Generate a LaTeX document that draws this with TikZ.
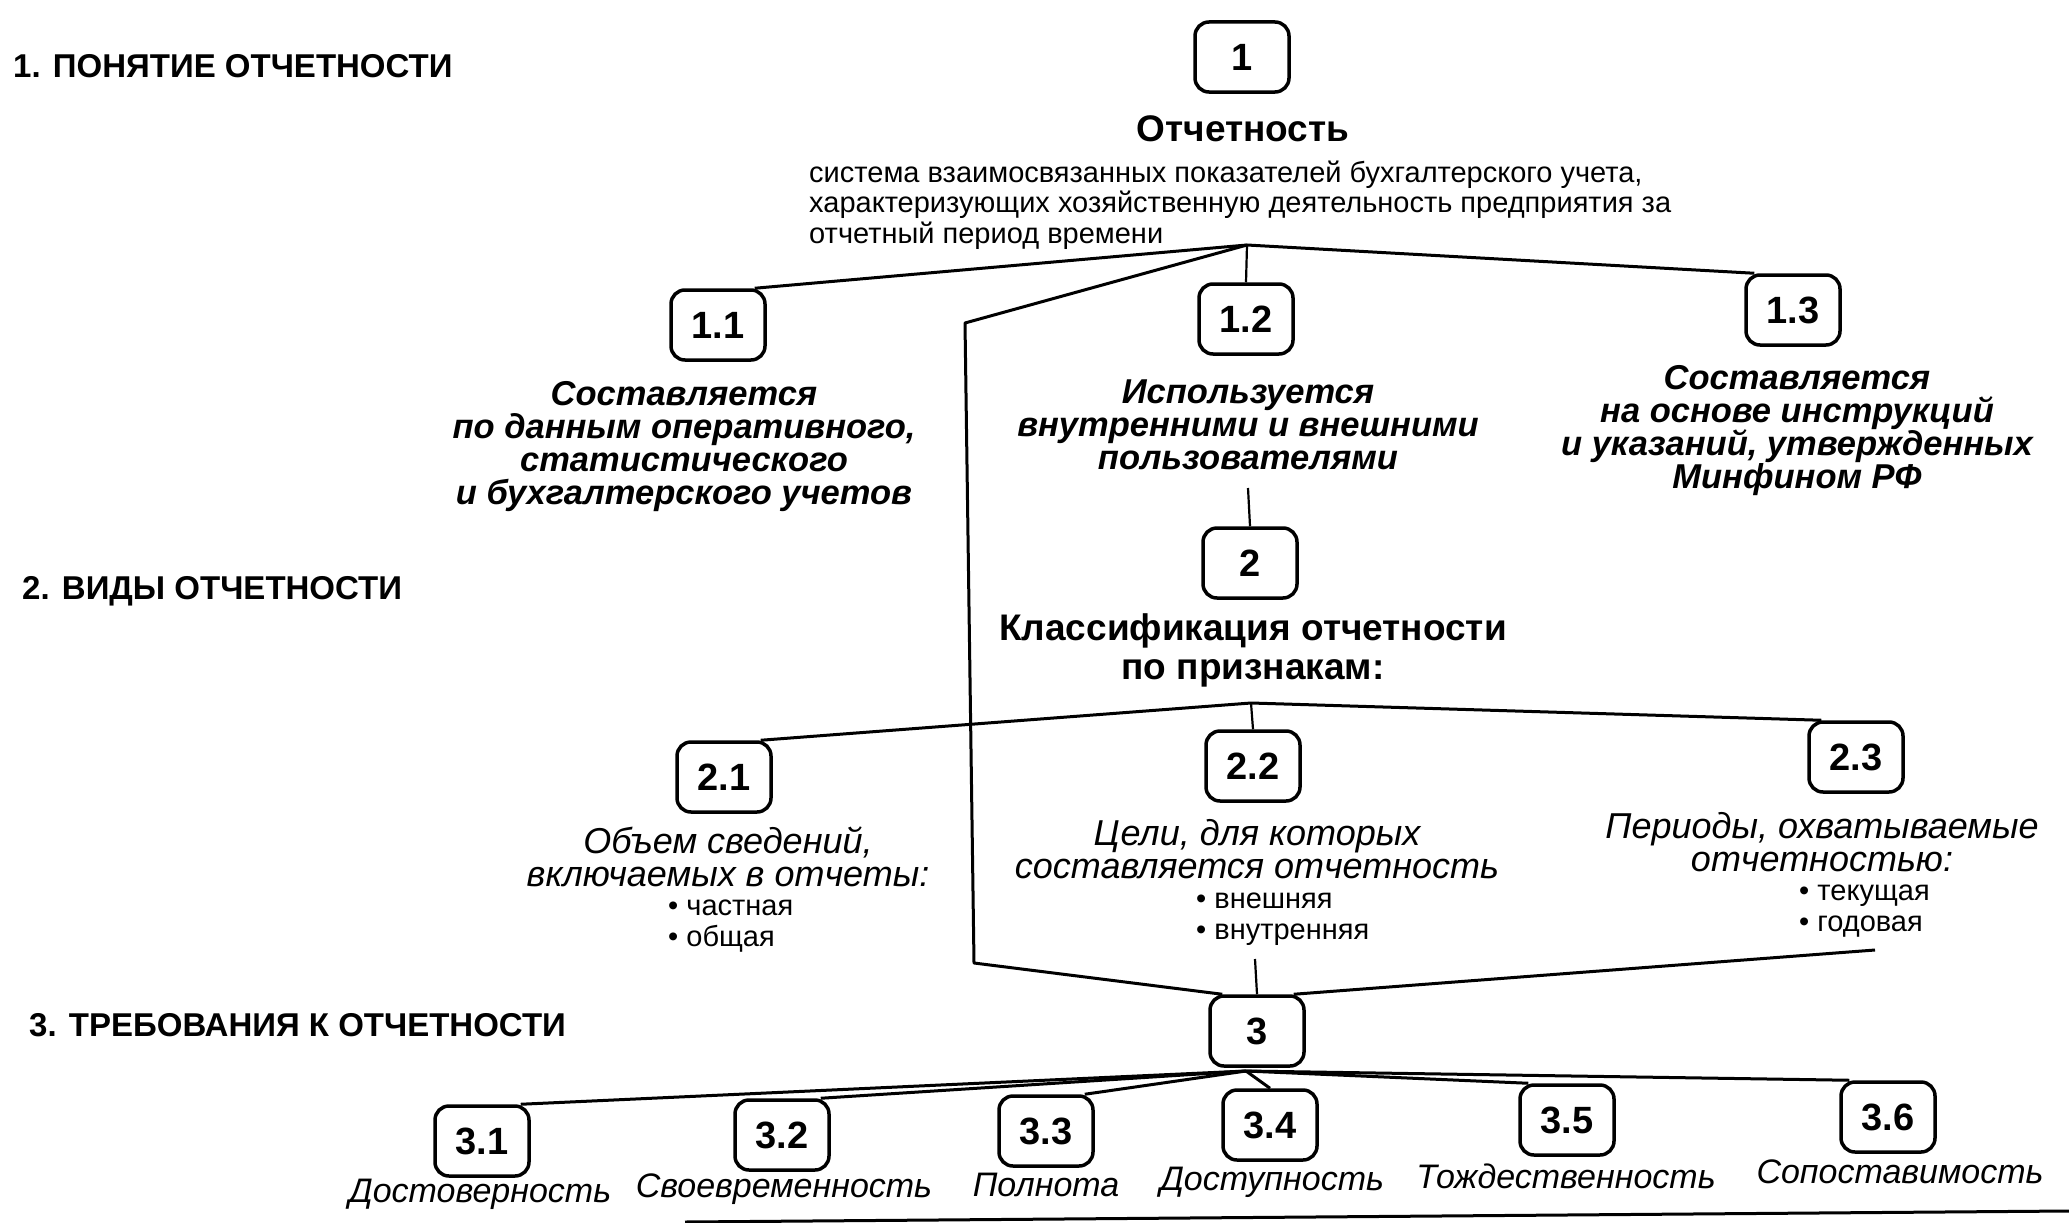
\documentclass[tikz,border=0pt]{standalone}
\usepackage{fontspec}
\setmainfont{Liberation Sans}
\begin{document}
\begin{tikzpicture}[x=1pt,y=-1pt,
  numbox/.style={draw, line width=3.5pt, rounded corners=14pt, minimum width=94pt, minimum height=70pt, inner sep=0pt, font=\fontsize{38}{40}\selectfont\bfseries},
  conn/.style={line width=3pt},
  thinconn/.style={line width=2.2pt},
  head/.style={anchor=west, inner sep=0pt, font=\fontsize{33}{38}\selectfont\bfseries},
  desc/.style={inner sep=0pt, align=left, font=\fontsize{29}{30.5}\selectfont},
  bigtitle/.style={inner sep=0pt, align=center, font=\fontsize{37}{39}\selectfont\bfseries},
  bitext/.style={inner sep=0pt, align=center, font=\fontsize{34.5}{33}\selectfont\bfseries\itshape},
  itext/.style={inner sep=0pt, align=center, font=\fontsize{36}{33}\selectfont\itshape},
  bullets/.style={inner sep=0pt, anchor=west, align=left, font=\fontsize{29}{30.5}\selectfont},
  lab/.style={inner sep=0pt, font=\fontsize{34}{38}\selectfont\itshape}
]
\useasboundingbox (0,0) rectangle (2069,1223);

% headings
\node[head] (h1) at (13,66) {1. ПОНЯТИЕ ОТЧЕТНОСТИ};
\node[head] (h2) at (22,591) {2. ВИДЫ ОТЧЕТНОСТИ};
\node[head] (h3) at (29,1025) {3. ТРЕБОВАНИЯ К ОТЧЕТНОСТИ};

% boxes
\node[numbox] (n1) at (1242,57) {1};
\node[numbox] (n11) at (718,325) {1.1};
\node[numbox] (n12) at (1246,319) {1.2};
\node[numbox] (n13) at (1793,310) {1.3};
\node[numbox] (n2) at (1250,563) {2};
\node[numbox] (n21) at (724,777) {2.1};
\node[numbox] (n22) at (1253,766) {2.2};
\node[numbox] (n23) at (1856,757) {2.3};
\node[numbox] (n3) at (1257,1031) {3};
\node[numbox] (n31) at (482,1141) {3.1};
\node[numbox] (n32) at (782,1135) {3.2};
\node[numbox] (n33) at (1046,1131) {3.3};
\node[numbox] (n34) at (1270,1125) {3.4};
\node[numbox] (n35) at (1567,1120) {3.5};
\node[numbox] (n36) at (1888,1117) {3.6};

% texts
\node[bigtitle] (tt1) at (1243,129) {Отчетность};
\node[desc, anchor=west] (t1) at (809,205) {система взаимосвязанных показателей бухгалтерского учета,\\характеризующих хозяйственную деятельность предприятия за\\отчетный период времени};
\node[bitext] (t11) at (684,447) {Составляется\\по данным оперативного,\\статистического\\и бухгалтерского учетов};
\node[bitext] (t12) at (1248,425) {Используется\\внутренними и внешними\\пользователями};
\node[bitext] (t13) at (1797,431) {Составляется\\на основе инструкций\\и указаний, утвержденных\\Минфином РФ};
\node[bigtitle, font=\fontsize{37}{39}\selectfont\bfseries] (t2) at (1253,650) {Классификация отчетности\\по признакам:};

\node[itext] (t21) at (728,857) {Объем сведений,\\включаемых в отчеты:};
\node[bullets] (b21) at (668,926) {• частная\\• общая};
\node[itext] (t22) at (1257,849) {Цели, для которых\\составляется отчетность};
\node[bullets] (b22) at (1196,919) {• внешняя\\• внутренняя};
\node[itext] (t23) at (1822,842) {Периоды, охватываемые\\отчетностью:};
\node[bullets] (b23) at (1799,911) {• текущая\\• годовая};

\node[lab] (l31) at (480,1194) {Достоверность};
\node[lab] (l32) at (784,1189) {Своевременность};
\node[lab] (l33) at (1046,1185) {Полнота};
\node[lab] (l34) at (1272,1182) {Доступность};
\node[lab] (l35) at (1566,1176) {Тождественность};
\node[lab] (l36) at (1900,1172) {Сопоставимость};

% coordinates
\coordinate (hub1) at (1247,245);
\coordinate (bend1) at (965,323);
\coordinate (bend2) at (974,963);
\coordinate (c12) at (1248,488);
\coordinate (hub2) at (1251,703);
\coordinate (c22) at (1255,959);
\coordinate (c23) at (1875,950);
\coordinate (hub3) at (1246,1071);
\coordinate (r1) at (685,1222);
\coordinate (r2) at (2069,1211);

% connectors
\draw[conn] ([xshift=-12pt]n11.north east) -- (hub1) -- ([xshift=10pt]n13.north west);
\draw[thinconn] (hub1) -- (n12.north);
\draw[conn, line join=round] (hub1) -- (bend1) -- (bend2) -- ([xshift=14pt]n3.north west);
\draw[thinconn] (c12) -- (n2.north);
\draw[conn] ([xshift=-12pt]n21.north east) -- (hub2) -- ([xshift=14pt]n23.north west);
\draw[thinconn] (hub2) -- (n22.north);
\draw[conn] (c23) -- ([xshift=-12pt]n3.north east);
\draw[thinconn] (c22) -- (n3.north);
\draw[conn] (hub3) -- ([xshift=-10pt]n31.north east);
\draw[conn] (hub3) -- ([xshift=-10pt]n32.north east);
\draw[conn] (hub3) -- ([xshift=-10pt]n33.north east);
\draw[conn] (hub3) -- (n34.north);
\draw[conn] (hub3) -- ([xshift=10pt]n35.north west);
\draw[conn] (hub3) -- ([xshift=10pt]n36.north west);
\draw[conn] (r1) -- (r2);
\end{tikzpicture}
\end{document}
